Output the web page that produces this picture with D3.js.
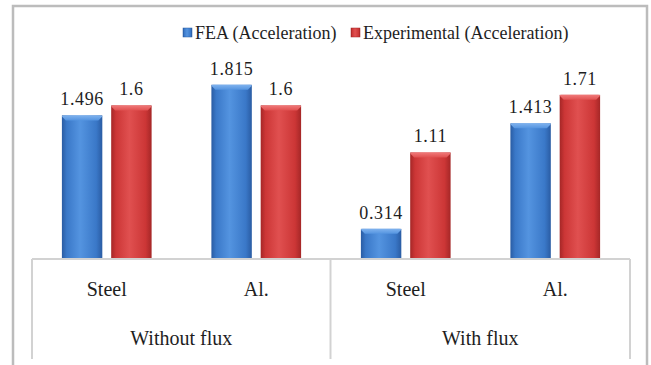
<!DOCTYPE html>
<html>
<head>
<meta charset="utf-8">
<script src="https://cdn.jsdelivr.net/npm/d3@7"></script>
</head>
<body style="margin:0">
<script>
// Acceleration results: FEA vs experiment, steel and aluminium, with and without flux
const categories = ["Steel", "Al.", "Steel", "Al."];
const groups = ["Without flux", "With flux"];
const series = ["FEA (Acceleration)", "Experimental (Acceleration)"];
const feaValues = [1.496, 1.815, 0.314, 1.413];
const expValues = [1.6, 1.6, 1.11, 1.71];
const valueLabels = [["1.496", "1.6"], ["1.815", "1.6"], ["0.314", "1.11"], ["1.413", "1.71"]];

const W = 651, H = 365;
const plot = { left: 32, right: 630, base: 259, top: 67 };
const INK = "#1e1e1e";

// serif typeface on every text element
function serif(sel, size) {
  return sel.attr("font-family", "serif").style("font-family", "serif")
    .attr("font-size", size).attr("fill", INK);
}

const svg = d3.select("body").append("svg").attr("width", W).attr("height", H)
  .attr("font-family", "serif").style("display", "block");
const defs = svg.append("defs");

const palette = [
  { dark: "#2a5ca3", mid: "#3a78c8", light: "#5494e0", cap: "#7fb2ee" },
  { dark: "#a52727", mid: "#cc3636", light: "#e05050", cap: "#f07a7a" }
];
palette.forEach((c, i) => {
  const g = defs.append("linearGradient").attr("id", "bar" + i)
    .attr("x1", 0).attr("x2", 1).attr("y1", 0).attr("y2", 0);
  [[0, c.dark], [0.12, c.mid], [0.45, c.light], [0.85, c.mid], [1, c.dark]]
    .forEach(([o, col]) => g.append("stop").attr("offset", o).attr("stop-color", col));
  const cap = defs.append("linearGradient").attr("id", "cap" + i)
    .attr("x1", 0).attr("x2", 0).attr("y1", 0).attr("y2", 1);
  cap.append("stop").attr("offset", 0).attr("stop-color", c.cap);
  cap.append("stop").attr("offset", 1).attr("stop-color", c.light);
});

// outer chart frame
svg.append("rect").attr("x", 13).attr("y", 6).attr("width", 634).attr("height", 420)
  .attr("fill", "#fff").attr("stroke", "#bcbcbc").attr("stroke-width", 2.5);

const x0 = d3.scaleBand().domain(d3.range(categories.length))
  .range([plot.left, plot.right]).paddingInner(0.4).paddingOuter(0.2);
const x1 = d3.scaleBand().domain([0, 1]).range([0, x0.bandwidth()]).paddingInner(0.18);
const y = d3.scaleLinear().domain([0, 2]).range([plot.base, plot.top]);

const rows = categories.map((c, i) => ({ i, vals: [feaValues[i], expValues[i]] }));

const cat = svg.selectAll("g.cat").data(rows).join("g").attr("class", "cat")
  .attr("transform", d => `translate(${x0(d.i)},0)`);

const bars = cat.selectAll("g.bar").data(d => d.vals.map((v, s) => ({ v, s, i: d.i })))
  .join("g").attr("class", "bar");

bars.append("rect")
  .attr("x", d => x1(d.s)).attr("width", x1.bandwidth())
  .attr("y", d => y(d.v)).attr("height", d => plot.base - y(d.v))
  .attr("fill", d => `url(#bar${d.s})`);

bars.append("path")
  .attr("d", d => {
    const xl = x1(d.s), xr = xl + x1.bandwidth(), t = y(d.v);
    return `M${xl},${t + 1}Q${xl},${t} ${xl + 2},${t}L${xr - 2},${t}Q${xr},${t} ${xr},${t + 1}L${xr - 4},${t + 5}L${xl + 4},${t + 5}Z`;
  })
  .attr("fill", d => `url(#cap${d.s})`);

serif(bars.append("text"), 18)
  .attr("x", d => x1(d.s) + x1.bandwidth() / 2)
  .attr("y", d => y(d.v) - 10)
  .attr("text-anchor", "middle")
  .attr("letter-spacing", 0.6)
  .text(d => valueLabels[d.i][d.s]);

// category axis box
const axis = svg.append("g").attr("stroke", "#d2d2d2").attr("stroke-width", 2).attr("fill", "none");
axis.append("line").attr("x1", plot.left).attr("x2", plot.right).attr("y1", plot.base).attr("y2", plot.base);
const groupEdges = [plot.left, x0.step() * 2 + plot.left - 0.5, plot.right];
axis.selectAll("line.v").data(groupEdges).join("line").attr("class", "v")
  .attr("x1", d => d).attr("x2", d => d).attr("y1", plot.base).attr("y2", 359);

serif(svg.selectAll("text.cat").data(categories).join("text").attr("class", "cat"), 20)
  .attr("x", (d, i) => x0(i) + x0.bandwidth() / 2).attr("y", 296)
  .attr("text-anchor", "middle").text(d => d);

serif(svg.selectAll("text.grp").data(groups).join("text").attr("class", "grp"), 20)
  .attr("x", (d, i) => (groupEdges[i] + groupEdges[i + 1]) / 2).attr("y", 345)
  .attr("text-anchor", "middle").text(d => d);

// legend
const legendPos = [183, 351];
const lg = svg.selectAll("g.leg").data(series).join("g").attr("class", "leg")
  .attr("transform", (d, i) => `translate(${legendPos[i]},28)`);
lg.append("rect").attr("width", 9).attr("height", 9)
  .attr("fill", (d, i) => `url(#bar${i})`).attr("stroke", (d, i) => palette[i].dark).attr("stroke-width", 0.5);
serif(lg.append("text"), 18).attr("x", 12).attr("y", 10.5).text(d => d);
</script>
</body>
</html>
